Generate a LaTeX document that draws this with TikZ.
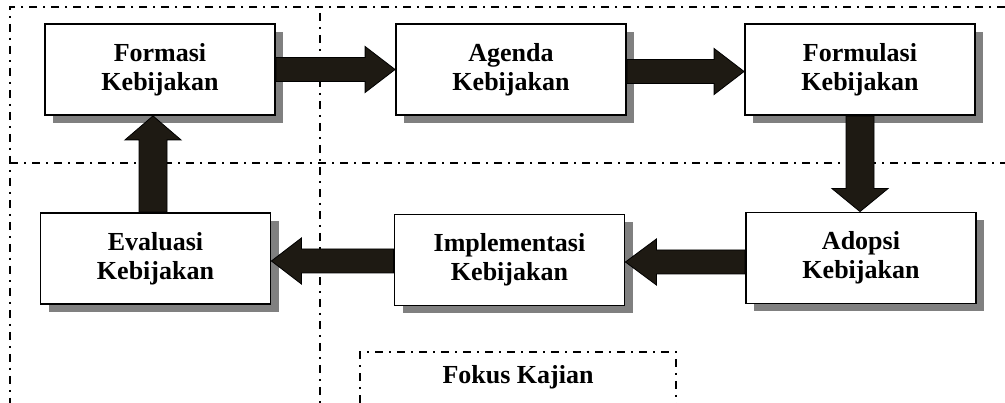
\documentclass[tikz,border=0pt]{standalone}
\usepackage{fontspec}
\setmainfont{Liberation Serif}
\usetikzlibrary{calc}

\definecolor{arrowfill}{HTML}{1E1A13}
\definecolor{shadowgray}{HTML}{808080}

\tikzset{
  region/.style={line width=1.4pt, dash pattern=on 8pt off 6pt on 2pt off 6pt},
  stagebox/.style={draw=black, line width=1.8pt, fill=white,
    minimum width=230pt, minimum height=91pt, inner sep=0pt,
    align=center, font=\fontsize{26}{29}\selectfont\bfseries,
    preaction={fill=shadowgray, transform canvas={shift={(8pt,-8pt)}}}},
  flowarrow/.style={draw=black, line width=0.8pt, fill=arrowfill, line join=miter},
  label/.style={font=\fontsize{26}{29}\selectfont\bfseries, inner sep=0pt}
}

% block arrow: #1 start, #2 tip, #3 half body width, #4 half head width, #5 head length
\newcommand\blockarrow[5]{%
  \coordinate (ba-s) at (#1);
  \coordinate (ba-e) at (#2);
  \coordinate (ba-n) at ($(ba-e)!#5!(ba-s)$);
  \draw[flowarrow]
    ($(ba-s)!#3!90:(ba-e)$) -- ($(ba-n)!#3!-90:(ba-s)$) --
    ($(ba-n)!#4!-90:(ba-s)$) -- (ba-e) --
    ($(ba-n)!#4!90:(ba-s)$) -- ($(ba-n)!#3!90:(ba-s)$) --
    ($(ba-s)!#3!-90:(ba-e)$) -- cycle;
}

\begin{document}
\begin{tikzpicture}[x=1pt, y=-1pt]
  \useasboundingbox (0,0) rectangle (1005,403);

  % region boundaries
  \draw[region] (1005,7) -- (10,7) -- (10,403);
  \draw[region] (320,13) -- (320,403);
  \draw[region] (10,163) -- (1005,163);

  % focus area
  \draw[region] (360,403) -- (360,352) -- (676,352) -- (676,403);
  \node[label] (fk) at (518,377) {Fokus Kajian};

  % policy stages
  \node[stagebox] (fm) at (160,69.5)  {Formasi\\Kebijakan};
  \node[stagebox] (ag) at (511,69.5)  {Agenda\\Kebijakan};
  \node[stagebox] (fl) at (860,69.5)  {Formulasi\\Kebijakan};
  \node[stagebox] (ev) at (155.5,258.5) {Evaluasi\\Kebijakan};
  \node[stagebox] (im) at (509.5,260) {Implementasi\\Kebijakan};
  \node[stagebox] (ad) at (861,258)   {Adopsi\\Kebijakan};

  % cycle arrows
  \blockarrow{fm.east}{ag.west}{12pt}{23pt}{30pt}
  \blockarrow{$(ag.east)+(0,2)$}{$(fl.west)+(0,2)$}{12pt}{23pt}{30pt}
  \blockarrow{fl.south}{fl.south |- ad.north}{14pt}{28pt}{23pt}
  \coordinate (adout) at ($(ad.west)+(0,4)$);
  \blockarrow{adout}{im.east |- adout}{12pt}{23pt}{31pt}
  \coordinate (imout) at ($(im.west)+(0,1)$);
  \blockarrow{imout}{ev.east |- imout}{12pt}{23pt}{30pt}
  \coordinate (evout) at ($(ev.north)+(-2.5,0)$);
  \blockarrow{evout}{evout |- fm.south}{14pt}{28pt}{24pt}
\end{tikzpicture}
\end{document}
